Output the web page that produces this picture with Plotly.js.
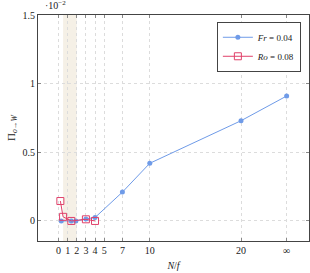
<!DOCTYPE html>
<html><head><meta charset="utf-8">
<script src="https://cdn.plot.ly/plotly-3.0.1.min.js"></script>
<style>html,body{margin:0;padding:0;background:#fff}#c{width:310px;height:273px}</style>
</head><body><div id="c"></div>
<script>
const frX = [0.3, 1.4, 1.9, 3, 4, 7, 10, 20, 25];
const frY = [0.0, 0.0, 0.0, 0.015, 0.025, 0.21, 0.42, 0.73, 0.91];
const roX = [0.2, 0.5, 1.4, 3, 4];
const roY = [0.145, 0.03, 0.0, 0.012, 0.0];
const xTickVals = [0, 1, 2, 3, 4, 5, 7, 10, 20, 25];
const xTickText = ['0', '1', '2', '3', '4', '5', '7', '10', '20', '∞'];
const yTickVals = [0, 0.5, 1, 1.5];
const yTickText = ['0', '0.5', '1', '1.5'];
const band = [0.5, 2];

const font = {family: "'Liberation Serif', 'DejaVu Serif', serif", size: 10, color: '#222'};
const traces = [
  {x: frX, y: frY, mode: 'lines+markers', name: '<i>Fr</i> = 0.04',
   line: {color: '#6f9be8', width: 1}, marker: {symbol: 'circle', size: 5, color: '#6f9be8'}},
  {x: roX, y: roY, mode: 'lines+markers', name: '<i>Ro</i> = 0.08',
   line: {color: '#e0406a', width: 1}, marker: {symbol: 'square-open', size: 7, color: '#e0406a', line: {width: 1}}}
];
const axisCommon = {showline: true, linecolor: '#444', linewidth: 1, mirror: 'ticks', ticks: 'inside',
  ticklen: 3, tickcolor: '#888', showgrid: true, gridcolor: '#dcdcdc', griddash: 'dot', gridwidth: 1,
  zeroline: false, tickfont: font};
const layout = {
  width: 310, height: 273, margin: {l: 38, r: 1, t: 15, b: 32},
  paper_bgcolor: '#fff', plot_bgcolor: '#fff', font: font, showlegend: true,
  xaxis: Object.assign({}, axisCommon, {range: [-2.25, 27.45], tickmode: 'array', tickvals: xTickVals, ticktext: xTickText,
    title: {text: '<i>N</i>/<i>f</i>', font: font, standoff: 6}}),
  yaxis: Object.assign({}, axisCommon, {range: [-0.146, 1.5], tickmode: 'array', tickvals: yTickVals, ticktext: yTickText,
    title: {text: 'Π<sub><i>o</i>→<i>W</i></sub>', font: Object.assign({}, font, {size: 11}), standoff: 4}}),
  legend: {x: 0.97, y: 0.97, xanchor: 'right', yanchor: 'top', bgcolor: '#fff', bordercolor: '#444', borderwidth: 1,
    font: Object.assign({}, font, {size: 9}), tracegroupgap: 0, itemwidth: 30},
  shapes: [{type: 'rect', xref: 'x', yref: 'paper', x0: band[0], x1: band[1], y0: 0, y1: 1,
    fillcolor: 'rgba(235,225,205,0.5)', line: {width: 0}, layer: 'below'}],
  annotations: [{text: '·10<sup>−2</sup>', xref: 'paper', yref: 'paper', x: 0.02, y: 1.01, xanchor: 'left', yanchor: 'bottom',
    showarrow: false, font: font}]
};
Plotly.newPlot('c', traces, layout, {displayModeBar: false, staticPlot: true});
</script></body></html>
